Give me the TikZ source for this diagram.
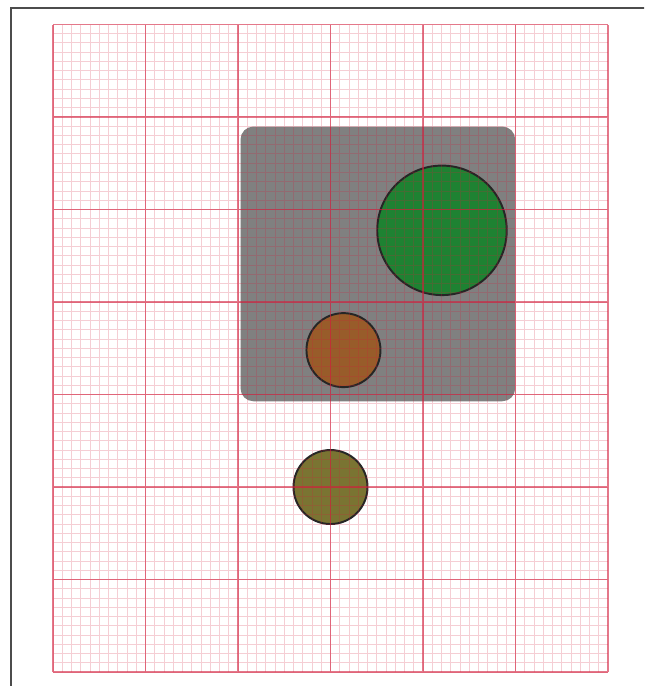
\documentclass[tikz,border=0pt]{standalone}
\usepackage{tikz}
\usetikzlibrary{positioning}

\definecolor{boxgray}{RGB}{128,128,128}
\definecolor{leafgreen}{RGB}{30,130,50}
\definecolor{rustbrown}{RGB}{152,92,42}
\definecolor{olivedrab}{RGB}{122,116,50}
\definecolor{gridred}{RGB}{210,30,60}

\tikzset{
    disc/.style={draw=black!85, circle, line width=0.6pt, inner sep=0pt},
}

\begin{document}
\begin{tikzpicture}
            \useasboundingbox (-0.573,-0.151) rectangle (6.389,7.265);
            \clip (-0.573,-0.151) rectangle (6.389,7.265);

            % Outer frame (runs off the page on the right and bottom)
            \draw [black!70, line width=0.6pt] (-0.454,-1) rectangle (7,7.175);

            % Rounded gray panel
            \node [fill=boxgray, rounded corners=4pt, inner sep=0pt, minimum width=2.97cm, minimum height=2.97cm, anchor=south west] (panel) at (2.02,2.92) {};

            % Discs
            \node [disc, fill=leafgreen, minimum size=1.4cm] (green) at (4.205,4.775) {};
            \node [disc, fill=rustbrown, minimum size=0.8cm] (brown) at (3.14,3.48) {};
            \node [disc, fill=olivedrab, minimum size=0.8cm] (olive) at (3.0,2.0) {};

            % Graph paper on top
            \draw [gridred, line width=0.3pt, opacity=0.22, step=0.1] (0,0) grid (6,7);
            \draw [gridred, line width=0.35pt, opacity=0.6, step=1] (0,0) grid (6,7);
        \end{tikzpicture}
\end{document}
